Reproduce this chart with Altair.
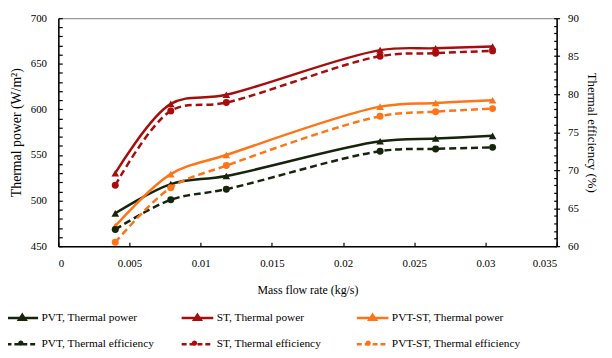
import altair as alt
import pandas as pd

# ---- data ----
flow = [0.004, 0.0079, 0.0118, 0.0226, 0.0265, 0.0305]
pvt_power = [486, 518, 527, 565, 568, 571]
st_power = [530, 606, 616, 665, 667, 669]
pvtst_power = [472, 529, 550, 603, 607, 610]
pvt_eff = [62.2, 66.1, 67.5, 72.5, 72.8, 73.0]
st_eff = [68.0, 77.8, 78.9, 85.0, 85.4, 85.7]
pvtst_eff = [60.5, 67.7, 70.6, 77.1, 77.7, 78.1]

power_names = ["PVT, Thermal power", "ST, Thermal power", "PVT-ST, Thermal power"]
eff_names = ["PVT, Thermal efficiency", "ST, Thermal efficiency", "PVT-ST, Thermal efficiency"]
series_names = power_names + eff_names
row_colors = ["#15240b", "#a80d0d", "#ff7416"]
series_colors = row_colors + row_colors

x_ticks_major = [0, 0.005, 0.01, 0.015, 0.02, 0.025, 0.03, 0.035]
power_ticks = [450, 500, 550, 600, 650, 700]
power_minor = list(range(450, 701, 10))
eff_ticks = [60, 65, 70, 75, 80, 85, 90]
eff_minor = list(range(60, 91, 1))

power_df = pd.DataFrame({
    "flow": flow * 3,
    "value": pvt_power + st_power + pvtst_power,
    "series": [s for s in power_names for _ in flow],
})
eff_df = pd.DataFrame({
    "flow": flow * 3,
    "value": pvt_eff + st_eff + pvtst_eff,
    "series": [s for s in eff_names for _ in flow],
})

FONT = "Liberation Serif"
color_scale = alt.Scale(domain=series_names, range=series_colors)
CURVE = "catmull-rom"

# ---- axes ----
x_scale = alt.Scale(domain=[0, 0.035], nice=False, zero=False)
x_main = alt.X("flow:Q", scale=x_scale, axis=alt.Axis(
    orient="bottom", values=x_ticks_major, format="~g", title="Mass flow rate (kg/s)",
    ticks=False, tickSize=0, labelPadding=12, titlePadding=16, grid=False,
    domainColor="#000000", domainWidth=1.5, labelFont=FONT, titleFont=FONT,
    labelFontSize=11, titleFontSize=12, labelColor="#000000", titleColor="#000000",
    titleFontWeight="normal"))
x_tick = alt.X("flow:Q", scale=x_scale, axis=alt.Axis(
    orient="bottom", values=x_ticks_major, labels=False, domain=False, title=None,
    ticks=True, tickSize=4, offset=-4, tickColor="#000000", tickWidth=1.2, grid=False))

p_scale = alt.Scale(domain=[450, 700], nice=False, zero=False)
y_power_main = alt.Y("value:Q", scale=p_scale, axis=alt.Axis(
    orient="left", values=power_ticks, title="Thermal power (W/m²)", ticks=False, tickSize=0,
    labelPadding=12, titlePadding=7, grid=False, domainColor="#000000", domainWidth=1.5,
    labelFont=FONT, titleFont=FONT, labelFontSize=11, titleFontSize=14,
    labelColor="#000000", titleColor="#000000", titleFontWeight="normal"))
y_power_tick = alt.Y("value:Q", scale=p_scale, axis=alt.Axis(
    orient="left", values=power_minor, labels=False, domain=False, title=None,
    ticks=True, tickSize=4, offset=-4, tickColor="#000000", tickWidth=1.2, grid=False))

e_scale = alt.Scale(domain=[60, 90], nice=False, zero=False)
y_eff_main = alt.Y("value:Q", scale=e_scale, axis=alt.Axis(
    orient="right", values=eff_ticks, title="Thermal efficiency (%)", ticks=True, tickSize=3,
    tickColor="#000000", tickWidth=1.2, labelPadding=8, titlePadding=6, grid=False,
    domainColor="#000000", domainWidth=1.5, labelFont=FONT, titleFont=FONT,
    labelFontSize=11, titleFontSize=13, labelColor="#000000", titleColor="#000000",
    titleFontWeight="normal"))
y_eff_tick = alt.Y("value:Q", scale=e_scale, axis=alt.Axis(
    orient="right", values=eff_minor, labels=False, domain=False, title=None,
    ticks=True, tickSize=3, offset=-3, tickColor="#000000", tickWidth=1.2, grid=False))

col = alt.Color("series:N", scale=color_scale, legend=None)

# ---- data marks ----
power_line = alt.Chart(power_df).mark_line(interpolate=CURVE, strokeWidth=2.5).encode(
    x=x_main, y=y_power_main, color=col, detail="series:N")
power_pts = alt.Chart(power_df).mark_point(shape="triangle-up", filled=True, size=60, opacity=1).encode(
    x=x_main, y=y_power_tick, color=col)
power_group = alt.layer(power_line, power_pts).resolve_axis(y="independent")

eff_line = alt.Chart(eff_df).mark_line(interpolate=CURVE, strokeWidth=2.5, strokeDash=[7, 4]).encode(
    x=x_tick, y=y_eff_main, color=col, detail="series:N")
eff_pts = alt.Chart(eff_df).mark_point(shape="circle", filled=True, size=50, opacity=1).encode(
    x=x_tick, y=y_eff_tick, color=col)
eff_group = alt.layer(eff_line, eff_pts).resolve_axis(y="independent")

data_group = alt.layer(power_group, eff_group).resolve_scale(y="independent").resolve_axis(x="independent")

# ---- legend (line + marker symbols), built from helper layers that draw nothing in the plot ----
tri_path = "M-1,0L1,0M0,-0.2L0.21,0.12L-0.21,0.12ZM0,-0.09L0.09,0.05L-0.09,0.05Z"
line_path = "M-1,0L1,0"
circ_path = "M-1,0L1,0M0.17,0A0.17,0.17 0 1,1 -0.17,0A0.17,0.17 0 1,1 0.17,0Z"


def legend_layer(names, filled, symbol, legend_y, col_pad, stroke_w, dash=None, show_labels=True):
    df = pd.DataFrame({"series": names, "h": [0] * len(names)})
    leg_kw = dict(
        title=None, orient="none", legendX=-54, legendY=legend_y, columns=3,
        direction="horizontal", gridAlign="all", columnPadding=col_pad,
        symbolType=symbol, symbolSize=1024, symbolStrokeWidth=stroke_w, symbolOpacity=1,
        labelFont=FONT, labelFontSize=11.5, labelColor="#000000", labelOffset=2,
        labelLimit=300,
    )
    if dash is not None:
        leg_kw["symbolDash"] = dash
    if not show_labels:
        leg_kw["labelExpr"] = "''"
    return alt.Chart(df).mark_point(filled=filled, clip=True, opacity=1, strokeWidth=2.5).encode(
        x=alt.X("h:Q", scale=alt.Scale(domain=[1, 2]), axis=None),
        y=alt.Y("h:Q", scale=alt.Scale(domain=[1, 2]), axis=None),
        color=alt.Color("series:N", scale=alt.Scale(domain=names, range=row_colors),
                        legend=alt.Legend(**leg_kw)),
    )


leg_power = legend_layer(power_names, False, tri_path, 286, 22.5, 2.5)
leg_eff_line = legend_layer(eff_names, False, line_path, 313, 5.5, 2.5, dash=[5, 3])
leg_eff_mark = legend_layer(eff_names, True, circ_path, 313, 142, 0, show_labels=False)

chart = alt.layer(leg_power, leg_eff_line, leg_eff_mark, data_group).resolve_scale(
    x="independent", y="independent", color="independent"
).properties(
    width=505, height=231, autosize=alt.AutoSizeParams(type="none"),
    padding={"left": 51, "top": 8, "right": 48, "bottom": 110},
).configure_view(stroke="#808080", strokeWidth=1)

chart.save("out.html", embed_options={"renderer": "svg", "actions": False})
